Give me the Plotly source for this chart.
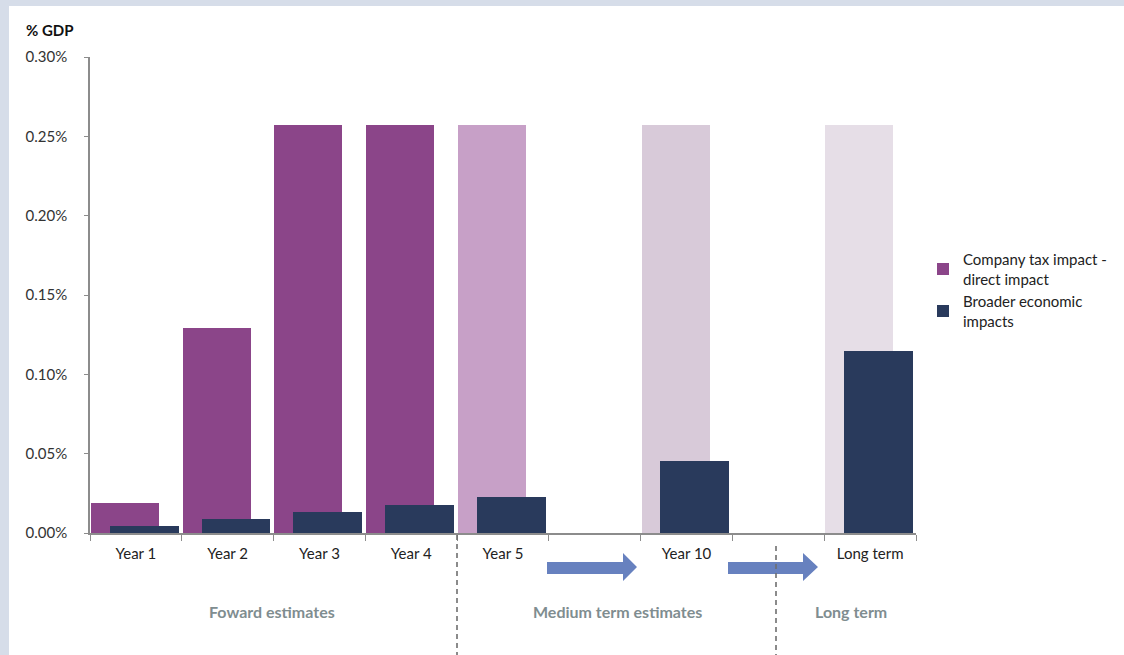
import plotly.graph_objects as go

categories = ["Year 1", "Year 2", "Year 3", "Year 4", "Year 5", " ", "Year 10", "  ", "Long term"]
company_tax = [0.019, 0.129, 0.257, 0.257, 0.257, None, 0.257, None, 0.257]
company_colors = ["#8B4589", "#8B4589", "#8B4589", "#8B4589", "#C7A0C7", "#C7A0C7", "#D8CAD9", "#D8CAD9", "#E6DEE7"]
broader = [0.0044, 0.0088, 0.0132, 0.0178, 0.0227, None, 0.0454, None, 0.1147]
y_ticks = [0.0, 0.05, 0.10, 0.15, 0.20, 0.25, 0.30]
group_labels = ["Foward estimates", "Medium term estimates", "Long term"]

FONT = "Lato"
L, R, T, B = 90, 916, 57, 533
W, H = 1124, 655

def px(x):
    return (x - L) / (R - L)

def py(y):
    return (B - y) / (B - T)

fig = go.Figure()
fig.add_trace(go.Bar(
    x=categories, y=company_tax, name="Company tax impact -<br>direct impact",
    marker=dict(color=company_colors, line=dict(width=0)),
    width=0.74, offset=-0.49,
))
fig.add_trace(go.Bar(
    x=categories, y=broader, name="Broader economic<br>impacts",
    marker=dict(color="#293A5C", line=dict(width=0)),
    width=0.75, offset=-0.285,
))

shapes = []
shapes.append(dict(type="rect", xref="paper", yref="paper", layer="below",
                   x0=px(9), x1=px(W + 5), y0=py(H + 5), y1=py(6),
                   fillcolor="white", line=dict(width=0)))

def arrow(x0, xh, x1, yt, yb, bt, bb):
    path = (f"M {px(x0)},{py(bt)} L {px(xh)},{py(bt)} L {px(xh)},{py(yt)} "
            f"L {px(x1)},{py((yt+yb)/2)} L {px(xh)},{py(yb)} L {px(xh)},{py(bb)} "
            f"L {px(x0)},{py(bb)} Z")
    return dict(type="path", xref="paper", yref="paper", path=path,
                fillcolor="#6781BF", line=dict(width=0))

shapes.append(arrow(547, 623, 637, 553, 581, 562, 574))
shapes.append(arrow(728, 803, 818, 553, 581, 562, 574))

for xd, ys in [(457, 535), (776, 546)]:
    shapes.append(dict(type="line", xref="paper", yref="paper",
                       x0=px(xd), x1=px(xd), y0=py(ys), y1=py(H),
                       line=dict(color="#6F6F6F", width=1.6, dash="5px,4px")))

annotations = [
    dict(text="<b>% GDP</b>", xref="paper", yref="paper", x=px(24), y=py(30),
         xanchor="left", yanchor="middle", showarrow=False,
         font=dict(family=FONT, size=15, color="#111111")),
]
for label, xc in zip(group_labels, [272, 617, 851]):
    annotations.append(dict(text=f"<b>{label}</b>", xref="paper", yref="paper",
                            x=px(xc), y=py(611), xanchor="center", yanchor="middle",
                            showarrow=False,
                            font=dict(family=FONT, size=16, color="#7F8D90")))

fig.update_layout(
    width=W, height=H,
    margin=dict(l=L, r=W - R, t=T, b=H - B, pad=0, autoexpand=False),
    paper_bgcolor="#D6DDE9",
    plot_bgcolor="rgba(0,0,0,0)",
    barmode="overlay",
    bargap=0,
    font=dict(family=FONT, size=15, color="#222222"),
    showlegend=True,
    legend=dict(x=px(923), y=py(243), xanchor="left", yanchor="top",
                bgcolor="rgba(0,0,0,0)", font=dict(family=FONT, size=15, color="#222222"),
                tracegroupgap=27, itemsizing="constant"),
    shapes=shapes,
    annotations=annotations,
    xaxis=dict(
        type="category", categoryorder="array", categoryarray=categories,
        tickson="boundaries", ticks="outside", ticklen=6, tickcolor="#8C8C8C",
        showline=True, linecolor="#8C8C8C", linewidth=1.5,
        showgrid=False, zeroline=False, ticklabelstandoff=6, automargin=False,
        tickfont=dict(family=FONT, size=15, color="#222222"),
        range=[-0.5, len(categories) - 0.5],
    ),
    yaxis=dict(
        range=[0, 0.30], tickvals=y_ticks,
        ticktext=[f"{v:.2f}%" for v in y_ticks],
        ticks="outside", ticklen=4, tickcolor="#8C8C8C",
        showline=True, linecolor="#8C8C8C", linewidth=1.5,
        showgrid=False, zeroline=False, ticklabelstandoff=14, automargin=False,
        tickfont=dict(family=FONT, size=15, color="#333333"),
    ),
)

fig.write_html("out.html")
